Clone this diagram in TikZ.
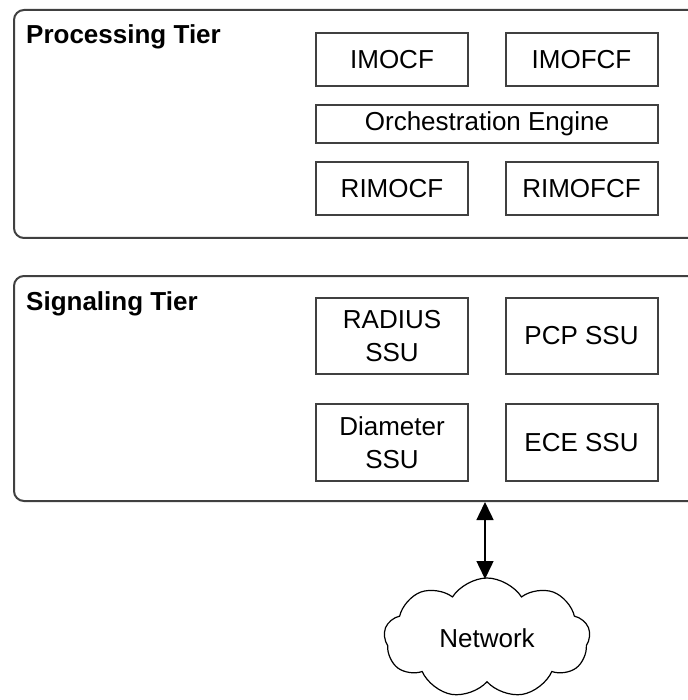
\documentclass[tikz,border=0pt]{standalone}
\usepackage{fontspec}
\setmainfont{Liberation Sans}
\usetikzlibrary{shapes.symbols,arrows.meta}
\definecolor{edgegray}{HTML}{404040}
\tikzset{
  tier/.style={draw=edgegray, line width=2pt, rounded corners=10pt, minimum width=700pt, anchor=north west},
  unit/.style={draw=edgegray, line width=2pt, minimum width=152pt, minimum height=53pt, inner sep=0pt, align=center, font=\fontsize{26}{33}\selectfont},
  title/.style={anchor=north west, inner sep=0pt, font=\bfseries\fontsize{26}{30}\selectfont},
}
\begin{document}
\begin{tikzpicture}[x=1pt,y=-1pt]
\useasboundingbox (0,0) rectangle (687,700);
\node[tier, minimum height=228pt] (proc) at (13,9) {};
\node[tier, minimum height=225pt] (sig) at (13,275) {};
\node[title] (proct) at (26,24) {Processing Tier};
\node[title] (sigt) at (26,291) {Signaling Tier};

\node[unit] (imocf) at (392,59.5) {IMOCF};
\node[unit] (imofcf) at (581.5,59.5) {IMOFCF};
\node[unit, minimum width=341.5pt, minimum height=38pt] (orch) at (487,124) {Orchestration Engine};
\node[unit] (rimocf) at (392,188.5) {RIMOCF};
\node[unit] (rimofcf) at (581.5,188.5) {RIMOFCF};

\node[unit, minimum height=76pt] (radius) at (392,336) {RADIUS\\SSU};
\node[unit, minimum height=76pt] (pcp) at (581.5,336) {PCP SSU};
\node[unit, minimum height=77pt] (diam) at (392,442.5) {Diameter\\SSU};
\node[unit, minimum height=77pt] (ece) at (581.5,442.5) {ECE SSU};

\node[cloud, draw=black, line width=1.2pt, cloud puffs=9, cloud puff arc=115, aspect=1.7,
  minimum width=206pt, minimum height=120pt, inner sep=0pt,
  font=\fontsize{26}{30}\selectfont] (net) at (487,638) {Network};
\path[draw,line width=1.5pt,{Triangle[length=18pt,width=17pt]}-{Triangle[length=18pt,width=17pt]}]
  (sig.south -| 485,0) -- (485,579);
\end{tikzpicture}
\end{document}
